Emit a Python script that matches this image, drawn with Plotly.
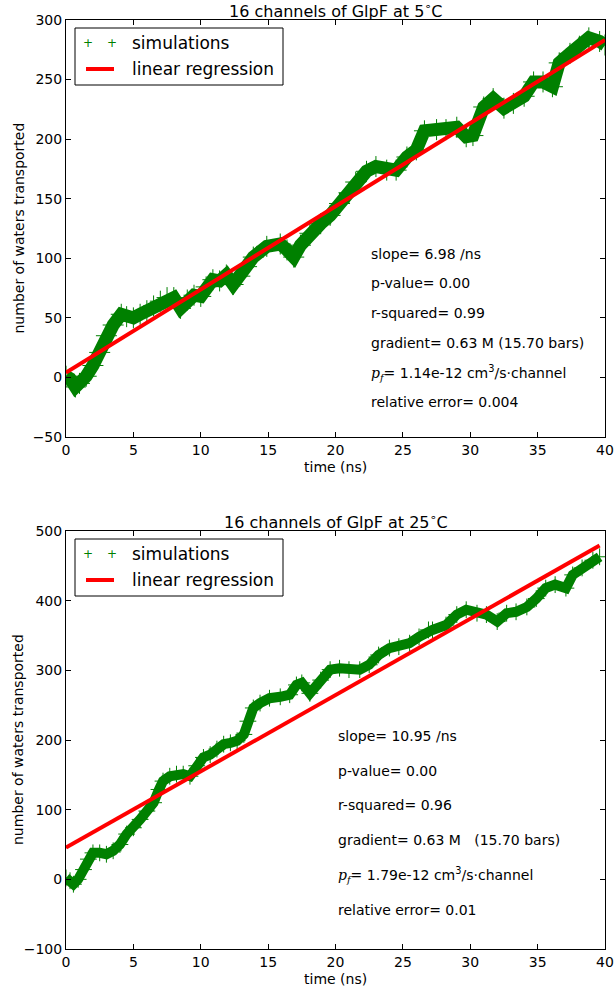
import plotly.graph_objects as go

# ---------------- data ----------------
t_top = [0, 0.3, 0.7, 1.0, 1.5, 2.0, 2.5, 3.0, 3.5, 4.1, 4.5, 5.0, 5.5, 6.0, 6.5, 7.0,
         7.5, 8.0, 8.5, 9.0, 9.5, 10.0, 10.4, 10.9, 11.4, 11.9, 12.4, 12.9, 13.4, 13.9,
         14.9, 15.9, 16.4, 16.9, 17.4, 18.1, 18.9, 19.6, 20.3, 21.0, 21.5, 22.3, 23.0,
         23.8, 24.5, 25.3, 26.0, 26.6, 27.5, 28.2, 29.0, 29.7, 30.2, 31.0, 31.7, 32.5,
         33.2, 34.0, 34.7, 35.4, 36.1, 36.6, 37.4, 38.1, 38.8, 39.6, 40.0]
w_top = [1, -1, -8, -5, 1, 10, 21, 35, 44, 53, 51, 50, 53, 56, 60, 64,
         67, 67, 58, 65, 69, 68, 76, 82, 81, 86, 78, 85, 93, 101,
         110, 112, 107, 101, 111, 121, 129, 136, 146, 155, 164, 173, 177,
         174, 174, 185, 191, 207, 208, 208, 210, 202, 203, 227, 234, 226,
         230, 236, 248, 248, 244, 264, 272, 278, 285, 282, 279]

t_bot = [0, 0.3, 0.55, 0.9, 1.3, 1.66, 2.0, 2.5, 3.0, 3.5, 4.0, 4.5, 5.0, 5.5, 6.0, 6.5,
         6.9, 7.2, 7.7, 8.2, 8.7, 9.2, 9.7, 10.2, 10.7, 11.2, 11.7, 12.2, 12.7, 13.2,
         13.5, 13.9, 14.4, 15.1, 15.9, 16.6, 17.1, 17.5, 18.1, 18.9, 19.6, 20.3, 21.0,
         21.8, 22.5, 23.2, 24.0, 24.7, 25.5, 26.2, 26.9, 27.2, 28.2, 29.0, 29.7, 30.5,
         31.2, 32.0, 32.7, 33.4, 34.2, 34.9, 35.6, 36.3, 37.1, 37.6, 38.3, 39.1, 39.6]
w_bot = [2, -2, -7, 0, 14, 29, 38, 38, 36, 41, 50, 65, 74, 86, 98, 110,
         129, 141, 148, 151, 151, 148, 163, 175, 179, 187, 194, 196, 199, 208,
         227, 246, 253, 260, 262, 265, 279, 282, 267, 286, 301, 303, 301,
         301, 308, 322, 332, 334, 339, 348, 358, 358, 365, 380, 387, 382,
         380, 370, 382, 384, 391, 403, 418, 423, 418, 437, 447, 458, 463]

fit_top = {"slope": 6.98, "intercept": 4.0}
fit_bot = {"slope": 10.95, "intercept": 45.5}

titles = ["16 channels of GlpF at 5<sup>∘</sup>C", "16 channels of GlpF at 25<sup>∘</sup>C"]
stats_top = ["slope= 6.98 /ns", "p-value= 0.00", "r-squared= 0.99",
             "gradient= 0.63 M (15.70 bars)",
             "<span style=\"font-family:'DejaVu Serif'\"><i>p<sub>f</sub></i></span>= 1.14e-12 cm<sup>3</sup>/s·channel",
             "relative error= 0.004"]
stats_bot = ["slope= 10.95 /ns", "p-value= 0.00", "r-squared= 0.96",
             "gradient= 0.63 M \u00a0\u00a0(15.70 bars)",
             "<span style=\"font-family:'DejaVu Serif'\"><i>p<sub>f</sub></i></span>= 1.79e-12 cm<sup>3</sup>/s·channel",
             "relative error= 0.01"]
stats_top_y = [104, 79, 54, 29, 4, -21]
stats_bot_y = [206, 156, 106, 56, 6, -44]
stats_top_x = 22.5
stats_bot_x = 20.0

# ---------------- figure ----------------
W, H = 615, 988
FONT = "DejaVu Sans"
GREEN = "#008000"
RED = "#ff0000"

# axes pixel boxes (left, top, right, bottom)
boxes = [(66, 20, 605, 437), (66, 531, 605, 949)]

fig = go.Figure()

def add_panel(i, t, w, fit, lw):
    xa = "x" if i == 0 else "x2"
    ya = "y" if i == 0 else "y2"
    fig.add_trace(go.Scatter(x=t, y=w, mode="lines+markers", xaxis=xa, yaxis=ya,
                             line=dict(color=GREEN, width=lw),
                             marker=dict(symbol="cross-thin", size=lw + 2,
                                         line=dict(color=GREEN, width=1)),
                             showlegend=False, hoverinfo="skip"))
    x0, x1 = min(t), max(t)
    fig.add_trace(go.Scatter(x=[x0, x1],
                             y=[fit["intercept"] + fit["slope"] * x0,
                                fit["intercept"] + fit["slope"] * x1],
                             mode="lines", xaxis=xa, yaxis=ya,
                             line=dict(color=RED, width=4),
                             showlegend=False, hoverinfo="skip"))

add_panel(0, t_top, w_top, fit_top, 13)
add_panel(1, t_bot, w_bot, fit_bot, 10)

def dom_x(a, b):
    return [a / W, b / W]

def dom_y(top, bot):
    return [1 - bot / H, 1 - top / H]

axis_common = dict(showline=True, linecolor="black", linewidth=1, mirror="ticks",
                   ticks="inside", ticklen=5, tickcolor="black", tickwidth=1,
                   showgrid=False, zeroline=False, automargin=False,
                   tickfont=dict(family=FONT, size=14, color="black"))

fig.update_layout(
    template="none",
    width=W, height=H, margin=dict(l=0, r=0, t=0, b=0, pad=0),
    paper_bgcolor="white", plot_bgcolor="white",
    font=dict(family=FONT, color="black"),
    xaxis=dict(domain=dom_x(boxes[0][0], boxes[0][2]), anchor="y", range=[0, 40],
               tickmode="linear", tick0=0, dtick=5, **axis_common),
    yaxis=dict(domain=dom_y(boxes[0][1], boxes[0][3]), anchor="x", range=[-50, 300],
               tickmode="linear", tick0=-50, dtick=50, **axis_common),
    xaxis2=dict(domain=dom_x(boxes[1][0], boxes[1][2]), anchor="y2", range=[0, 40],
                tickmode="linear", tick0=0, dtick=5, **axis_common),
    yaxis2=dict(domain=dom_y(boxes[1][1], boxes[1][3]), anchor="x2", range=[-100, 500],
                tickmode="linear", tick0=-100, dtick=100, **axis_common),
)

ann = []
shapes = []
for i, (l, t, r, b) in enumerate(boxes):
    cx = (l + r) / 2
    # title
    ann.append(dict(text=titles[i], xref="paper", yref="paper", x=cx / W, y=1 - (t - 10) / H,
                    xanchor="center", yanchor="middle", showarrow=False,
                    font=dict(family=FONT, size=16, color="black")))
    # x label
    ann.append(dict(text="time (ns)", xref="paper", yref="paper", x=cx / W, y=1 - (b + 30) / H,
                    xanchor="center", yanchor="middle", showarrow=False,
                    font=dict(family=FONT, size=14, color="black")))
    # y label
    ann.append(dict(text="number of waters transported", xref="paper", yref="paper",
                    x=18 / W, y=1 - ((t + b) / 2) / H, textangle=-90,
                    xanchor="center", yanchor="middle", showarrow=False,
                    font=dict(family=FONT, size=14, color="black")))
    # legend box
    shapes.append(dict(type="rect", xref="paper", yref="paper",
                       x0=75 / W, x1=283 / W, y0=1 - (t + 65) / H, y1=1 - (t + 8) / H,
                       line=dict(color="black", width=1), fillcolor="white", layer="above"))
    e1 = t + 23
    e2 = t + 49
    for mx in (87.5, 112):
        ann.append(dict(text="+", xref="paper", yref="paper", x=mx / W, y=1 - e1 / H,
                        xanchor="center", yanchor="middle", showarrow=False,
                        font=dict(family=FONT, size=12, color=GREEN)))
    shapes.append(dict(type="line", xref="paper", yref="paper",
                       x0=86 / W, x1=114 / W, y0=1 - e2 / H, y1=1 - e2 / H,
                       line=dict(color=RED, width=4), layer="above"))
    ann.append(dict(text="simulations", xref="paper", yref="paper", x=130 / W, y=1 - e1 / H,
                    xanchor="left", yanchor="middle", showarrow=False,
                    font=dict(family=FONT, size=17, color="black")))
    ann.append(dict(text="linear regression", xref="paper", yref="paper", x=130 / W, y=1 - e2 / H,
                    xanchor="left", yanchor="middle", showarrow=False,
                    font=dict(family=FONT, size=17, color="black")))

for txt, yy in zip(stats_top, stats_top_y):
    ann.append(dict(text=txt, xref="x", yref="y", x=stats_top_x, y=yy, xanchor="left",
                    yanchor="middle", showarrow=False, font=dict(family=FONT, size=14, color="black")))
for txt, yy in zip(stats_bot, stats_bot_y):
    ann.append(dict(text=txt, xref="x2", yref="y2", x=stats_bot_x, y=yy, xanchor="left",
                    yanchor="middle", showarrow=False, font=dict(family=FONT, size=14, color="black")))

fig.update_layout(annotations=ann, shapes=shapes)
fig.write_html("out.html", config={"displayModeBar": False},
               post_script="document.body.style.margin='0';document.body.style.overflow='hidden';")
